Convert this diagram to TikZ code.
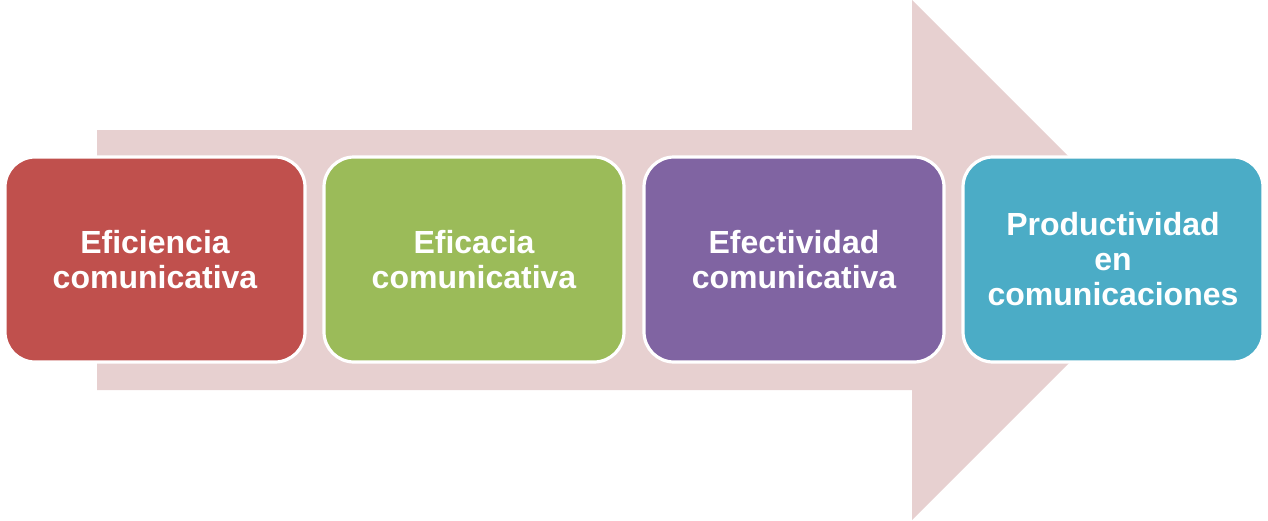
\documentclass[tikz,border=0pt]{standalone}
\usepackage{fontspec}
\setmainfont{Liberation Sans}
\begin{document}
\begin{tikzpicture}[x=0.5pt,y=-0.5pt,
  stagebox/.style={draw=white,line width=1.6pt,rounded corners=15pt,
    minimum width=150pt,minimum height=102.5pt,inner sep=0pt,outer sep=0pt,
    align=center,text=white,font=\fontsize{16}{17.5}\selectfont\bfseries}]
\definecolor{arrowpink}{HTML}{E7D0D0}
\definecolor{cred}{HTML}{C0504D}
\definecolor{cgreen}{HTML}{9BBB59}
\definecolor{cpurple}{HTML}{8064A2}
\definecolor{cteal}{HTML}{4BACC6}
\useasboundingbox (0,0) rectangle (1268,520);
\fill[arrowpink] (97,130) -- (912,130) -- (912,0) -- (1172,260) -- (912,520) -- (912,390) -- (97,390) -- cycle;
\node[stagebox,fill=cred] (s1) at (155,259.5) {Eficiencia\\comunicativa};
\node[stagebox,fill=cgreen] (s2) at (474,259.5) {Eficacia\\comunicativa};
\node[stagebox,fill=cpurple] (s3) at (794,259.5) {Efectividad\\comunicativa};
\node[stagebox,fill=cteal] (s4) at (1113,259.5) {Productividad\\en\\comunicaciones};
\end{tikzpicture}
\end{document}
